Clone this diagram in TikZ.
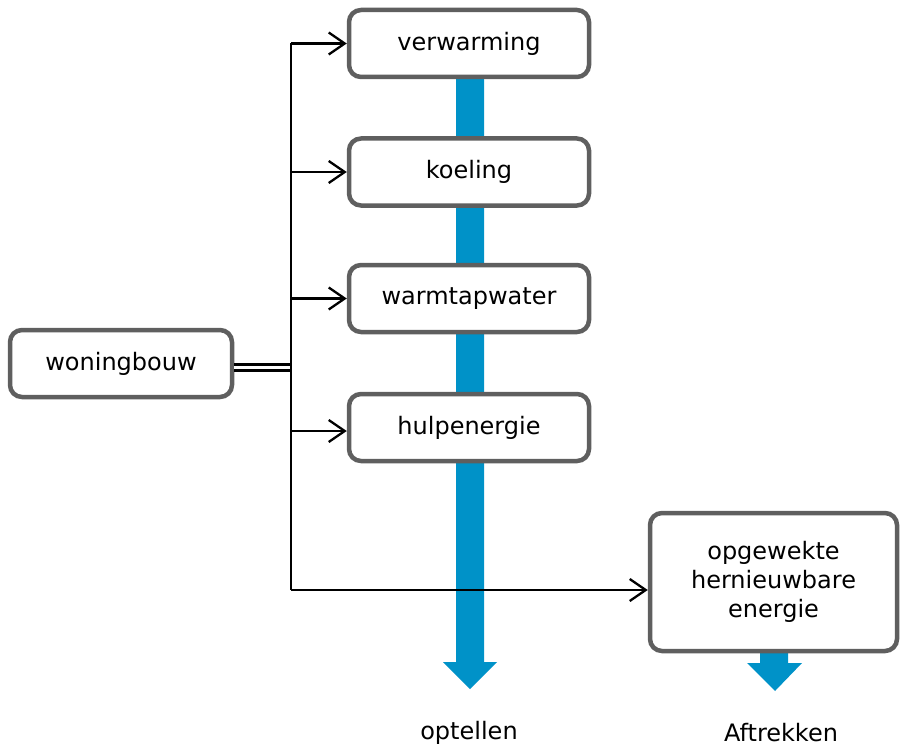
\documentclass[tikz,border=0pt]{standalone}
\usepackage{fontspec}
\setmainfont{DejaVu Sans}
\usetikzlibrary{arrows.meta}
\definecolor{boxgray}{RGB}{95,95,95}
\definecolor{flowblue}{RGB}{0,146,200}
\begin{document}
\begin{tikzpicture}[x=1pt,y=-1pt,
  box/.style={draw=boxgray, line width=4.5pt, rounded corners=12pt, fill=white,
    font=\fontsize{24}{29}\selectfont, align=center, inner sep=0pt},
  conn/.style={draw=black, line width=2.3pt},
  arr/.style={conn, -{Straight Barb[length=16pt,width=22pt,line width=2.3pt]}},
  lbl/.style={font=\fontsize{24}{29}\selectfont, inner sep=0pt}]
\useasboundingbox (0,0) rectangle (901,746);
% blue flow arrows
\fill[flowblue] (456,79) -- (484,79) -- (484,662) -- (497,662) -- (470,689) -- (443,662) -- (456,662) -- cycle;
\fill[flowblue] (760,650) -- (788,650) -- (788,663) -- (802,663) -- (775,691) -- (747,663) -- (760,663) -- cycle;
% boxes
\node[box, minimum width=240pt, minimum height=67pt] (verw) at (469,43.5) {verwarming};
\node[box, minimum width=240pt, minimum height=67pt] (koel) at (469,172) {koeling};
\node[box, minimum width=240pt, minimum height=67pt] (warm) at (469,298.5) {warmtapwater};
\node[box, minimum width=240pt, minimum height=67pt] (hulp) at (469,427.5) {hulpenergie};
\node[box, minimum width=222pt, minimum height=67pt] (wb) at (121,363.5) {woningbouw};
\node[box, minimum width=247pt, minimum height=138pt] (opg) at (773.5,582) {opgewekte\\hernieuwbare\\energie};
% labels
\node[lbl] (opt) at (469,733) {optellen};
\node[lbl] (aft) at (781,733) {Aftrekken};
% connectors
\coordinate (j) at (291,367.5);
\coordinate (top) at (291,43.5);
\coordinate (bot) at (291,590);
\coordinate (hj) at (291,431);
\draw[black, line width=3pt, double=white, double distance=2.5pt] (wb.east |- j) -- (j);
\draw[conn] (top) -- (bot);
\draw[arr] (top) -- (verw.west);
\draw[arr] (291,172) -- (koel.west);
\draw[arr] (291,298.5) -- (warm.west);
\draw[arr] (hj) -- (hulp.west |- hj);
\draw[arr] (bot) -- (opg.west |- bot);
\end{tikzpicture}
\end{document}
